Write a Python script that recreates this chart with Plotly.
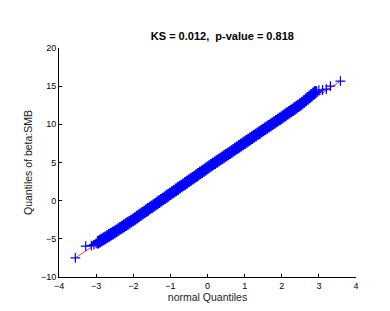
import plotly.graph_objects as go

# Tail points (read individually)
left_tail_x = [-3.56, -3.28, -3.13, -3.06, -3.00]
left_tail_y = [-7.50, -5.95, -5.90, -5.75, -5.60]
right_tail_x = [2.94, 3.00, 3.10, 3.20, 3.31, 3.58]
right_tail_y = [14.30, 14.47, 14.50, 14.60, 15.00, 15.65]

# Dense body (normal quantile, sample quantile)
body_x = [-2.95, -2.90, -2.85, -2.80, -2.75, -2.70, -2.65, -2.60, -2.55, -2.50,
          -2.45, -2.40, -2.35, -2.30, -2.25, -2.20, -2.15, -2.10, -2.05, -2.00,
          -1.95, -1.90, -1.85, -1.80, -1.75, -1.70, -1.65, -1.60, -1.55, -1.50,
          -1.45, -1.40, -1.35, -1.30, -1.25, -1.20, -1.15, -1.10, -1.05, -1.00,
          -0.95, -0.90, -0.85, -0.80, -0.75, -0.70, -0.65, -0.60, -0.55, -0.50,
          -0.45, -0.40, -0.35, -0.30, -0.25, -0.20, -0.15, -0.10, -0.05, 0.00,
          0.05, 0.10, 0.15, 0.20, 0.25, 0.30, 0.35, 0.40, 0.45, 0.50,
          0.55, 0.60, 0.65, 0.70, 0.75, 0.80, 0.85, 0.90, 0.95, 1.00,
          1.05, 1.10, 1.15, 1.20, 1.25, 1.30, 1.35, 1.40, 1.45, 1.50,
          1.55, 1.60, 1.65, 1.70, 1.75, 1.80, 1.85, 1.90, 1.95, 2.00,
          2.05, 2.10, 2.15, 2.20, 2.25, 2.30, 2.35, 2.40, 2.45, 2.50,
          2.55, 2.60, 2.65, 2.70, 2.75, 2.80, 2.85, 2.90]
body_y = [-5.45, -5.30, -5.15, -5.00, -4.85, -4.70, -4.55, -4.40, -4.25, -4.10,
          -3.94, -3.78, -3.62, -3.46, -3.30, -3.14, -2.98, -2.82, -2.66, -2.50,
          -2.33, -2.16, -1.99, -1.82, -1.65, -1.48, -1.31, -1.14, -0.97, -0.80,
          -0.63, -0.46, -0.29, -0.12, 0.05, 0.22, 0.39, 0.56, 0.73, 0.90,
          1.07, 1.24, 1.41, 1.58, 1.75, 1.92, 2.09, 2.26, 2.43, 2.60,
          2.77, 2.94, 3.11, 3.28, 3.45, 3.62, 3.79, 3.96, 4.13, 4.30,
          4.47, 4.63, 4.80, 4.96, 5.13, 5.29, 5.46, 5.62, 5.79, 5.95,
          6.12, 6.28, 6.45, 6.61, 6.78, 6.94, 7.11, 7.27, 7.44, 7.60,
          7.77, 7.93, 8.10, 8.26, 8.43, 8.59, 8.76, 8.92, 9.09, 9.25,
          9.42, 9.58, 9.75, 9.91, 10.08, 10.24, 10.41, 10.57, 10.74, 10.90,
          11.07, 11.24, 11.41, 11.58, 11.75, 11.92, 12.09, 12.26, 12.43, 12.60,
          12.80, 13.00, 13.20, 13.40, 13.60, 13.80, 14.00, 14.20]

# Reference line endpoints
ref_x = [-3.56, 3.58]
ref_y = [-7.50, 15.65]

x_ticks = [-4, -3, -2, -1, 0, 1, 2, 3, 4]
y_ticks = [-10, -5, 0, 5, 10, 15, 20]

title_text = "KS = 0.012,  p-value = 0.818"
x_label = "normal Quantiles"
y_label = "Quantiles of beta:SMB"

fig = go.Figure()
fig.add_trace(go.Scatter(x=ref_x, y=ref_y, mode="lines",
                         line=dict(color="#ff3a3a", width=1), hoverinfo="skip"))
fig.add_trace(go.Scatter(x=body_x, y=body_y, mode="markers",
                         marker=dict(symbol="cross-thin", size=9,
                                     line=dict(color="#0000ff", width=2.2),
                                     color="#0000ff")))
fig.add_trace(go.Scatter(x=left_tail_x + right_tail_x,
                         y=left_tail_y + right_tail_y, mode="markers",
                         marker=dict(symbol="cross-thin", size=7,
                                     line=dict(color="#0000ff", width=1.2),
                                     color="#0000ff")))

font = "Liberation Sans, Arial, sans-serif"
fig.update_layout(
    width=390, height=311,
    margin=dict(l=51, r=42, t=40, b=42),
    paper_bgcolor="white", plot_bgcolor="white",
    showlegend=False,
    font=dict(family=font, size=9, color="black"),
    title=dict(text="<b>" + title_text + "</b>", x=0.55, xref="paper",
               xanchor="center", y=1 - 28 / 311, yref="container",
               yanchor="middle", font=dict(size=11, family=font, color="black")),
    xaxis=dict(range=[-4, 4], tickvals=x_ticks, ticks="inside", ticklen=3,
               tickcolor="black", showline=True, linecolor="black", linewidth=1,
               showgrid=False, zeroline=False, mirror=False,
               title=dict(text=x_label, font=dict(size=10.5, color="#222"), standoff=3),
               tickfont=dict(size=9)),
    yaxis=dict(range=[-10, 20], tickvals=y_ticks, ticks="inside", ticklen=3,
               tickcolor="black", showline=True, linecolor="black", linewidth=1,
               showgrid=False, zeroline=False, mirror=False,
               title=dict(text=y_label, font=dict(size=10.5, color="#222"), standoff=6),
               tickfont=dict(size=9)),
)

fig.write_html("out.html")
